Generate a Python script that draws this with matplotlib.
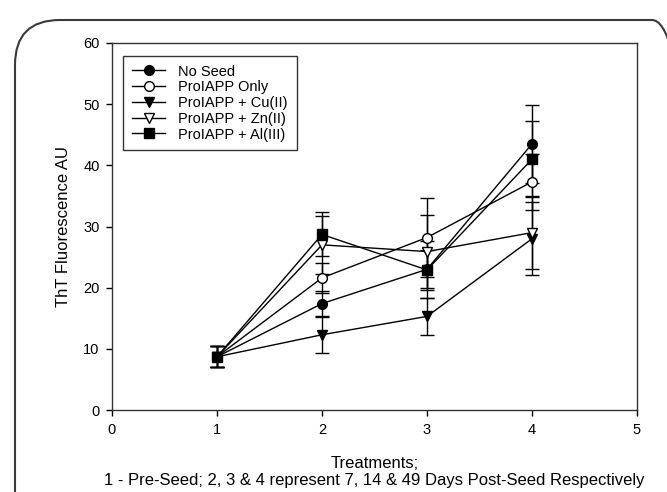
import numpy as np
import matplotlib
matplotlib.use('Agg')
import matplotlib.pyplot as plt
from matplotlib.patches import FancyBboxPatch
from matplotlib.transforms import IdentityTransform

plt.rcParams['font.family'] = ['Liberation Sans', 'DejaVu Sans']

treatments = [1, 2, 3, 4]
series_names = ['No Seed', 'ProIAPP Only', 'ProIAPP + Cu(II)', 'ProIAPP + Zn(II)', 'ProIAPP + Al(III)']
no_seed = [8.7, 17.4, 23.0, 43.5]
no_seed_err = [1.7, 2.0, 4.7, 6.4]
only = [8.7, 21.6, 28.2, 37.3]
only_err = [1.7, 2.5, 6.4, 4.6]
cu = [8.7, 12.3, 15.3, 28.0]
cu_err = [1.7, 2.9, 3.0, 6.0]
zn = [8.7, 27.0, 25.9, 29.0]
zn_err = [1.7, 4.7, 6.0, 6.0]
al = [8.7, 28.7, 22.9, 41.0]
al_err = [1.7, 3.6, 3.3, 6.2]

values = [no_seed, only, cu, zn, al]
errors = [no_seed_err, only_err, cu_err, zn_err, al_err]
markers = ['o', 'o', 'v', 'v', 's']
fills = ['black', 'white', 'black', 'white', 'black']

fig = plt.figure(figsize=(6.67, 4.92), dpi=100)

# rounded outer frame in pixels, runs off the right and bottom edges
frame = FancyBboxPatch((15, -60), 682, 492 - 20 + 60,
                       boxstyle='round,pad=0,rounding_size=45',
                       transform=IdentityTransform(), fill=False,
                       edgecolor='#3a3a3a', linewidth=1.5)
fig.patches.append(frame)

ax = fig.add_axes([112 / 667, 1 - 410 / 492, (637 - 112) / 667, (410 - 43) / 492])

for name, v, e, m, fc in zip(series_names, values, errors, markers, fills):
    ax.errorbar(treatments, v, yerr=e, color='black', linewidth=1.0,
                elinewidth=1.0, capsize=5, capthick=1.0,
                marker=m, markersize=7, markerfacecolor=fc,
                markeredgecolor='black', markeredgewidth=1.0, label=name)

ax.set_xlim(0, 5)
ax.set_ylim(0, 60)
ax.set_xticks([0, 1, 2, 3, 4, 5])
ax.set_yticks([0, 10, 20, 30, 40, 50, 60])
ax.tick_params(direction='out', length=4, width=1, labelsize=10.5, pad=5)
for s in ax.spines.values():
    s.set_linewidth(1.0)
    s.set_color('#333333')

ax.set_ylabel('ThT Fluorescence AU', fontsize=12, labelpad=9)
ax.set_xlabel('Treatments;\n1 - Pre-Seed; 2, 3 & 4 represent 7, 14 & 49 Days Post-Seed Respectively',
              fontsize=12, labelpad=14, linespacing=1.15)

handles, labels = ax.get_legend_handles_labels()
handles = [h[0] for h in handles]
leg = ax.legend(handles, labels, loc='upper left', bbox_to_anchor=(0.021, 0.965),
                fontsize=10.5, frameon=True, fancybox=False, edgecolor='black',
                handlelength=2.3, handletextpad=0.9, labelspacing=0.12,
                borderpad=0.6, borderaxespad=0)
leg.get_frame().set_linewidth(1.0)

fig.savefig('out.png', dpi=100)
